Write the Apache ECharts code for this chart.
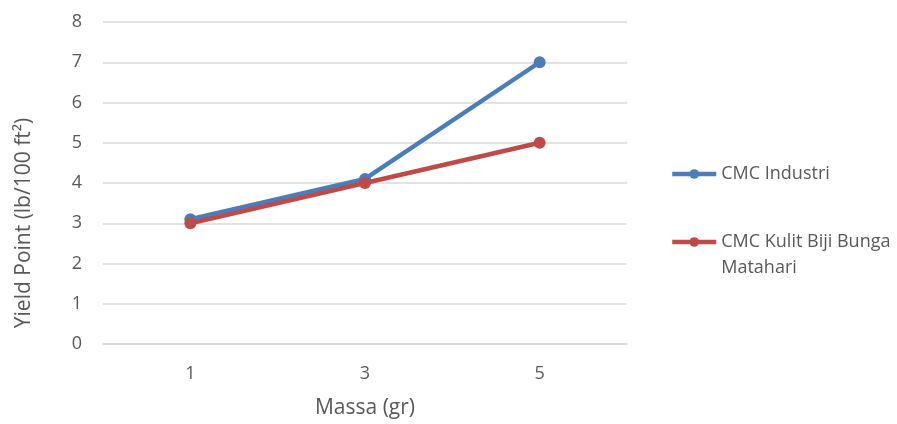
<!DOCTYPE html>
<html><head><meta charset="utf-8">
<script src="https://cdn.jsdelivr.net/npm/echarts@6/dist/echarts.min.js"></script>
<style>html,body{margin:0;padding:0;background:#fff}#c{width:897px;height:424px}</style>
</head><body><div id="c"></div>
<script>
var categories = ['1', '3', '5'];
var seriesNames = ['CMC Industri', 'CMC Kulit Biji Bunga\nMatahari'];
var cmcIndustri = [3.1, 4.1, 7];
var cmcKulit = [3, 4, 5];
var yTicks = [0, 1, 2, 3, 4, 5, 6, 7, 8];

var font = 'Open Sans';
var legendText = { fontFamily: font, fontSize: 18, color: '#595959', lineHeight: 26 };
var chart = echarts.init(document.getElementById('c'));
chart.setOption({
  animation: false,
  textStyle: { fontFamily: font },
  grid: { left: 103, right: 270, top: 22, bottom: 77 },
  legend: [{
    orient: 'vertical', left: 665, top: 156,
    itemWidth: 44, itemHeight: 12,
    lineStyle: { width: 4.5 },
    textStyle: legendText,
    data: [seriesNames[0]]
  }, {
    orient: 'vertical', left: 665, top: 198,
    itemWidth: 44, itemHeight: 12,
    lineStyle: { width: 4.5 },
    textStyle: legendText,
    formatter: function (name) { return ' \n' + name; },
    data: [seriesNames[1]]
  }],
  xAxis: {
    type: 'category', data: categories, boundaryGap: true,
    name: 'Massa (gr)', nameLocation: 'middle', nameGap: 54,
    nameTextStyle: { fontFamily: font, fontSize: 21, color: '#595959' },
    axisLine: { lineStyle: { color: '#d9d9d9', width: 1.5 } },
    axisTick: { show: false },
    axisLabel: { fontFamily: font, fontSize: 18, color: '#595959', margin: 21 }
  },
  yAxis: {
    type: 'value', min: 0, max: 8, interval: 1,
    name: 'Yield Point (lb/100 ft\u00B2)', nameLocation: 'middle', nameGap: 68,
    nameTextStyle: { fontFamily: font, fontSize: 21, color: '#595959', padding: [0, 80, 0, 0] },
    axisLine: { show: false }, axisTick: { show: false },
    axisLabel: { fontFamily: font, fontSize: 18, color: '#595959', margin: 21,
      formatter: function (v) { return yTicks.indexOf(v) >= 0 ? String(v) : ''; } },
    splitLine: { lineStyle: { color: '#d9d9d9', width: 1.5 } }
  },
  series: [
    { name: seriesNames[0], type: 'line', data: cmcIndustri, symbol: 'circle', symbolSize: 12,
      itemStyle: { color: '#4A7EBB' }, lineStyle: { color: '#4A7EBB', width: 4.5 }, z: 2 },
    { name: seriesNames[1], type: 'line', data: cmcKulit, symbol: 'circle', symbolSize: 12,
      itemStyle: { color: '#BE4B48' }, lineStyle: { color: '#BE4B48', width: 4.5 }, z: 3 }
  ]
});
</script></body></html>
